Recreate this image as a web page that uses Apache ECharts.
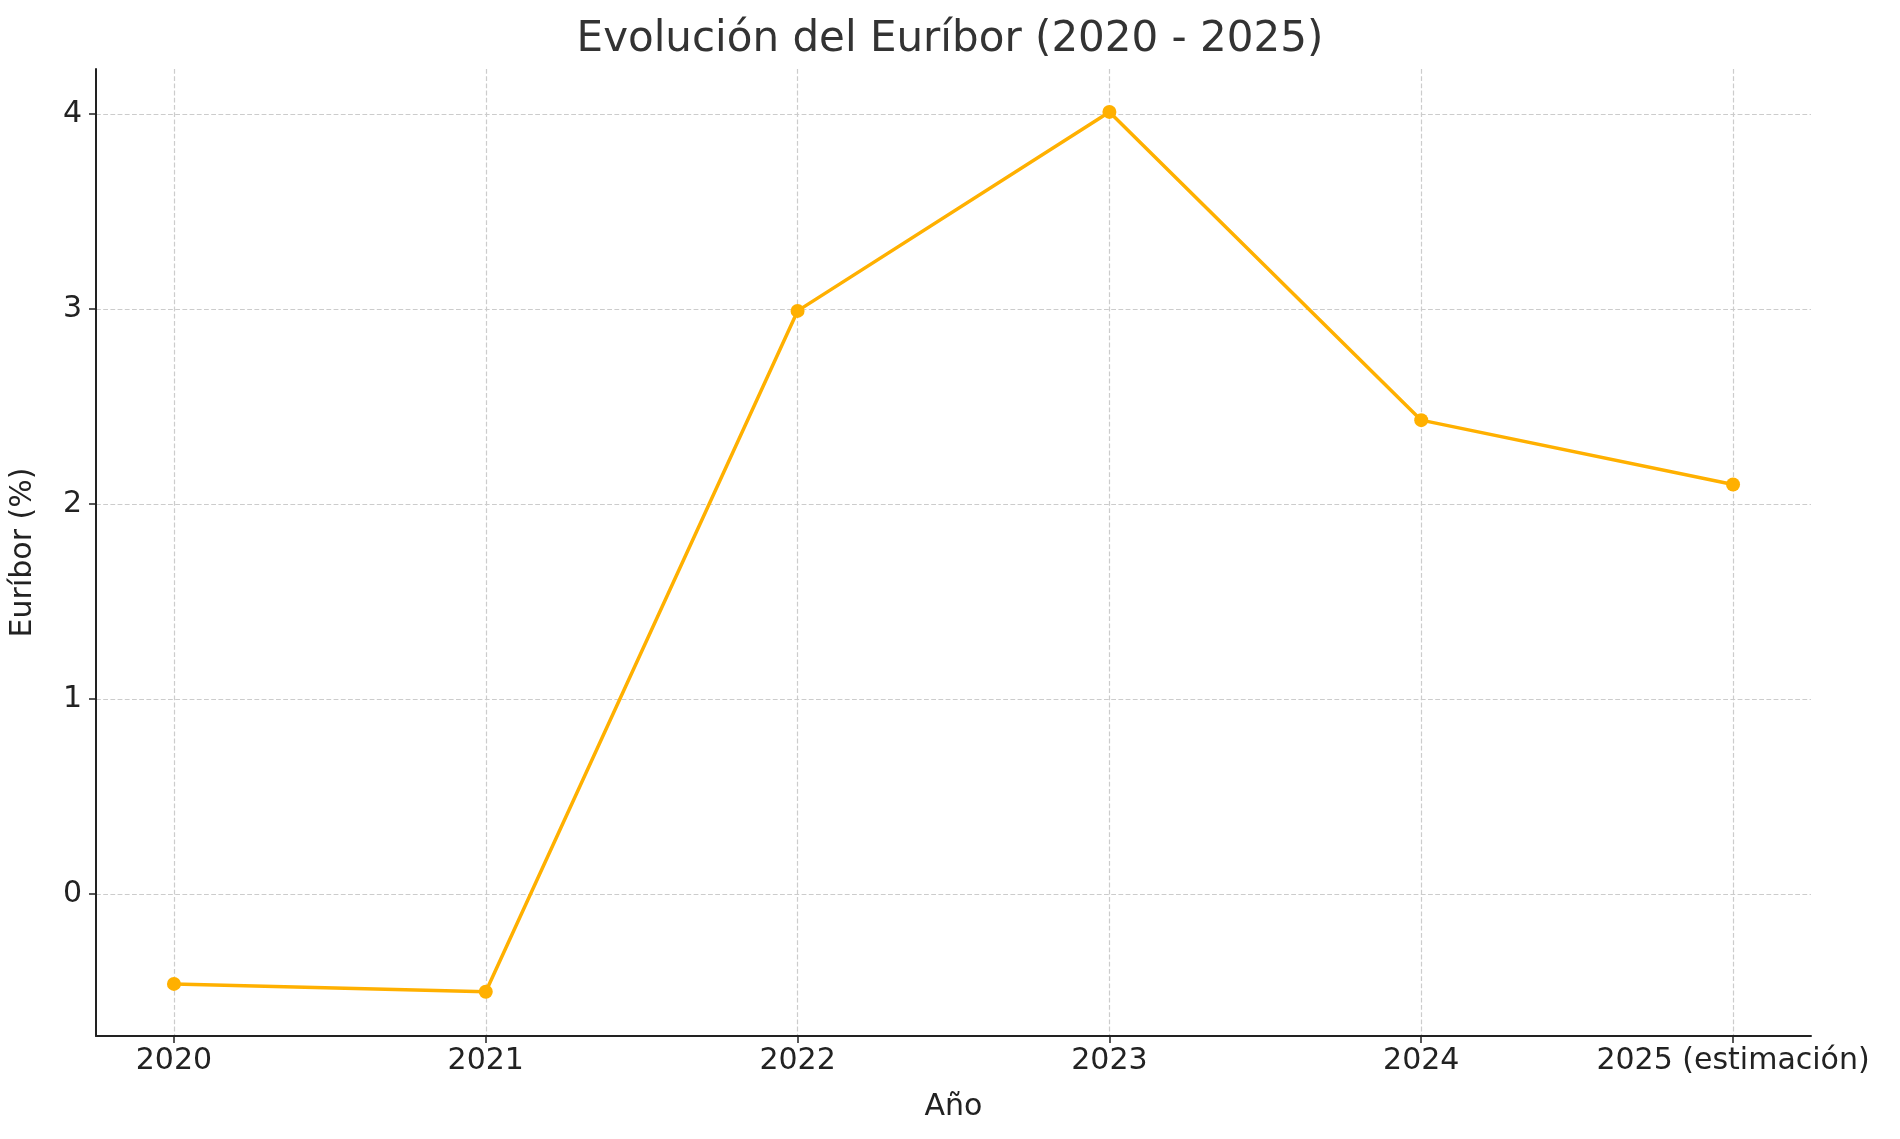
<!DOCTYPE html>
<html><head><meta charset="utf-8">
<script src="https://cdn.jsdelivr.net/npm/echarts@6/dist/echarts.min.js"></script>
<style>html,body{margin:0;background:#fff}#c{width:1900px;height:1139px}</style>
</head><body><div id="c"></div>
<script>
const categories = ['2020','2021','2022','2023','2024','2025 (estimación)'];
const euribor = [-0.46, -0.50, 2.99, 4.01, 2.43, 2.10];
const yTicks = [0,1,2,3,4];
const xIdx = categories.map((_, i) => i);
const font = 'DejaVu Sans';
const chart = echarts.init(document.getElementById('c'));
chart.setOption({
  animation: false,
  textStyle: {fontFamily: font},
  title: {text: 'Evolución del Euríbor (2020 - 2025)', left: 'center', top: 14,
    textStyle: {fontFamily: font, fontSize: 42, fontWeight: 'normal', color: '#333'}},
  grid: {left: 91, right: 89, top: 69, bottom: 103},
  xAxis: {
    type: 'value', min: -0.25, max: 5.25,
    name: 'Año', nameLocation: 'middle', nameGap: 56,
    nameTextStyle: {fontSize: 30, color: '#222', fontFamily: font},
    axisLine: {show: true, onZero: false, lineStyle: {color: '#222', width: 2}},
    axisTick: {show: true, customValues: xIdx, length: 7, lineStyle: {color: '#222', width: 1.5}},
    axisLabel: {customValues: xIdx, fontSize: 30, color: '#222', margin: 10,
      formatter: v => categories[Math.round(v)]},
    splitLine: {show: true, lineStyle: {type: 'dashed', color: '#ccc', width: 1.2}}
  },
  yAxis: {
    type: 'value', min: -0.727, max: 4.23,
    name: 'Euríbor (%)', nameLocation: 'middle', nameGap: 58, nameRotate: 90,
    nameTextStyle: {fontSize: 30, color: '#222', fontFamily: font},
    axisLine: {show: true, onZero: false, lineStyle: {color: '#222', width: 2}},
    axisTick: {show: true, customValues: yTicks, length: 7, lineStyle: {color: '#222', width: 1.5}},
    axisLabel: {customValues: yTicks, fontSize: 30, color: '#222', margin: 14},
    splitLine: {show: true, lineStyle: {type: 'dashed', color: '#ccc', width: 1.2}}
  },
  series: [{
    type: 'line', data: euribor.map((v, i) => [i, v]),
    symbol: 'circle', symbolSize: 14,
    lineStyle: {color: '#FFB000', width: 3.5},
    itemStyle: {color: '#FFB000'}
  }]
});
</script></body></html>
